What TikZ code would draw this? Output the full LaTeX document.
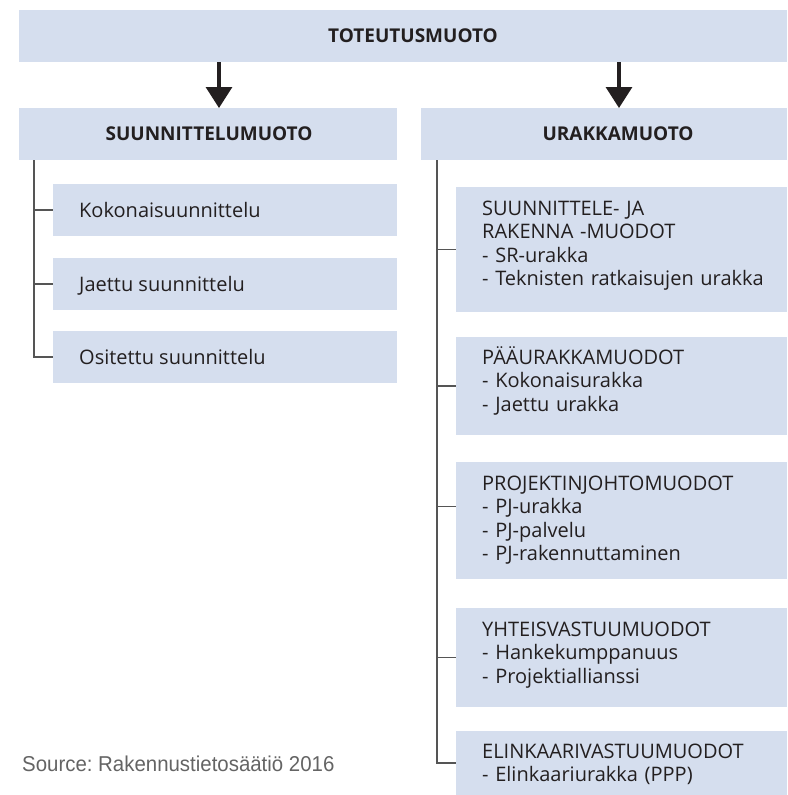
\documentclass[tikz,border=0pt]{standalone}
\usepackage{fontspec}
\setmainfont{Open Sans}
\newfontfamily\srcfont{Liberation Sans}
\usetikzlibrary{arrows.meta}
\frenchspacing
\definecolor{boxfill}{RGB}{213,222,238}
\definecolor{txt}{RGB}{35,31,32}
\definecolor{linec}{RGB}{85,85,85}
\definecolor{srcgray}{RGB}{100,100,100}
\tikzset{
  box/.style={fill=boxfill, draw=none, anchor=north west, inner sep=0pt, outer sep=0pt},
  head/.style={font=\bfseries\fontsize{19}{22}\selectfont, text=txt, inner sep=0pt},
  item/.style={font=\fontsize{20}{24}\selectfont, text=txt, inner sep=0pt, anchor=base west},
  multi/.style={font=\fontsize{20}{23.5}\selectfont, text=txt, inner sep=0pt, anchor=base west, text width=300pt, align=left},
  tree/.style={draw=linec, line width=1.2pt},
  arr/.style={draw=txt, line width=3.2pt, -{Triangle[width=26pt,length=21pt]}}
}
\begin{document}
\begin{tikzpicture}[x=1pt,y=-1pt]
\useasboundingbox (0,0) rectangle (787,795);
% top
\node[box, minimum width=768pt, minimum height=52pt] (top) at (19,10) {};
\node[head] (topt) at (413,36) {TOTEUTUSMUOTO};
% second row
\node[box, minimum width=378pt, minimum height=52pt] (sm) at (19,108) {};
\node[head] (smt) at (209,134) {SUUNNITTELUMUOTO};
\node[box, minimum width=366pt, minimum height=52pt] (um) at (421,108) {};
\node[head] (umt) at (618,134) {URAKKAMUOTO};
% arrows
\coordinate (ax1) at (219,0);
\coordinate (ax2) at (619,0);
\draw[arr] (top.south -| ax1) -- (sm.north -| ax1);
\draw[arr] (top.south -| ax2) -- (um.north -| ax2);
% left items
\node[box, minimum width=344pt, minimum height=52pt] (k1) at (53,184) {};
\node[item] (k1t) at (79,217) {Kokonaisuunnittelu};
\node[box, minimum width=344pt, minimum height=52pt] (k2) at (53,258) {};
\node[item] (k2t) at (79,291) {Jaettu suunnittelu};
\node[box, minimum width=344pt, minimum height=52pt] (k3) at (53,331) {};
\node[item] (k3t) at (79,364) {Ositettu suunnittelu};
% left tree
\coordinate (lv) at (34,160);
\draw[tree] (lv) |- (k3.west);
\draw[tree] (lv |- k1.west) -- (k1.west);
\draw[tree] (lv |- k2.west) -- (k2.west);
% right items
\node[box, minimum width=331pt, minimum height=125pt] (u1) at (456,187) {};
\node[multi] (u1t) at (482,215) {SUUNNITTELE- JA\\RAKENNA -MUODOT\\- SR-urakka\\- Teknisten ratkaisujen urakka};
\node[box, minimum width=331pt, minimum height=98pt] (u2) at (456,337) {};
\node[multi] (u2t) at (482,364) {PÄÄURAKKAMUODOT\\- Kokonaisurakka\\- Jaettu urakka};
\node[box, minimum width=331pt, minimum height=117pt] (u3) at (456,462) {};
\node[multi] (u3t) at (482,490) {PROJEKTINJOHTOMUODOT\\- PJ-urakka\\- PJ-palvelu\\- PJ-rakennuttaminen};
\node[box, minimum width=331pt, minimum height=99pt] (u4) at (456,608) {};
\node[multi] (u4t) at (482,636) {YHTEISVASTUUMUODOT\\- Hankekumppanuus\\- Projektiallianssi};
\node[box, minimum width=331pt, minimum height=64pt] (u5) at (456,731) {};
\node[multi] (u5t) at (482,758) {ELINKAARIVASTUUMUODOT\\- Elinkaariurakka (PPP)};
% right tree
\coordinate (rv) at (437,160);
\coordinate (u3c) at ([yshift=14pt]u3.west);
\draw[tree] (rv) |- (u5.west);
\draw[tree] (rv |- u1.west) -- (u1.west);
\draw[tree] (rv |- u2.west) -- (u2.west);
\draw[tree] (rv |- u3c) -- (u3c);
\draw[tree] (rv |- u4.west) -- (u4.west);
% source
\node[font=\srcfont\fontsize{21.5}{24}\selectfont, text=srcgray, anchor=base west, inner sep=0pt, xscale=0.95] (src) at (22,771) {Source: Rakennustietosäätiö 2016};
\end{tikzpicture}
\end{document}
